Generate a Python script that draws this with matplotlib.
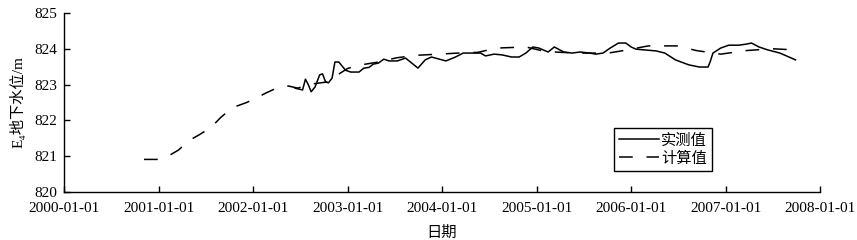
import matplotlib
matplotlib.use('Agg')
import matplotlib.pyplot as plt
import matplotlib.dates as mdates
import pandas as pd

# 实测值 (observed groundwater level, m)
obs_dates = ['2002-06-12', '2002-07-11', '2002-07-22', '2002-08-02', '2002-08-13', '2002-08-28',
             '2002-09-15', '2002-09-26', '2002-10-08', '2002-10-19', '2002-11-02', '2002-11-13',
             '2002-11-28', '2002-12-24', '2003-01-13', '2003-02-14', '2003-03-05', '2003-03-25',
             '2003-04-10', '2003-04-30', '2003-05-21', '2003-06-10', '2003-07-12', '2003-08-13',
             '2003-09-30', '2003-10-28', '2003-11-21', '2004-01-16', '2004-02-22', '2004-03-23',
             '2004-04-29', '2004-05-29', '2004-06-17', '2004-07-20', '2004-08-19', '2004-09-26',
             '2004-10-25', '2004-11-20', '2004-12-17', '2005-01-09', '2005-02-14', '2005-03-10',
             '2005-04-15', '2005-05-17', '2005-06-18', '2005-07-24', '2005-08-17', '2005-09-14',
             '2005-10-12', '2005-11-13', '2005-12-11', '2006-01-01', '2006-01-19', '2006-02-18',
             '2006-04-07', '2006-05-11', '2006-06-21', '2006-08-12', '2006-09-22', '2006-10-25',
             '2006-11-02', '2006-11-13', '2006-12-13', '2007-01-13', '2007-02-22', '2007-03-22',
             '2007-04-11', '2007-05-10', '2007-06-12', '2007-07-30', '2007-09-28']
obs_vals = [822.90, 822.85, 823.15, 823.00, 822.80, 822.93,
            823.27, 823.30, 823.07, 823.05, 823.18, 823.63,
            823.63, 823.40, 823.35, 823.35, 823.46, 823.48,
            823.57, 823.60, 823.71, 823.66, 823.66, 823.74,
            823.46, 823.69, 823.77, 823.66, 823.77, 823.88,
            823.88, 823.88, 823.80, 823.85, 823.83, 823.77,
            823.77, 823.88, 824.05, 824.02, 823.91, 824.05,
            823.91, 823.88, 823.91, 823.88, 823.85, 823.88,
            824.02, 824.16, 824.16, 824.05, 823.99, 823.97,
            823.94, 823.88, 823.69, 823.55, 823.49, 823.49,
            823.63, 823.88, 824.02, 824.10, 824.10, 824.13,
            824.16, 824.05, 823.97, 823.88, 823.69]

# 计算值 (simulated groundwater level, m)
sim_dates = ['2000-11-05', '2000-12-30', '2001-02-06', '2001-03-18', '2001-05-01', '2001-06-07',
             '2001-07-22', '2001-08-27', '2001-10-11', '2001-12-07', '2002-01-19', '2002-02-21',
             '2002-04-10', '2002-05-17', '2002-06-23', '2002-07-30', '2002-10-11', '2003-01-01',
             '2003-02-22', '2003-04-22', '2003-07-11', '2003-09-30', '2003-12-20', '2004-03-04',
             '2004-05-18', '2004-08-01', '2004-11-20', '2005-02-06', '2005-06-06', '2005-10-04',
             '2005-12-03', '2006-03-08', '2006-06-28', '2006-09-10', '2006-12-13', '2007-03-22',
             '2007-07-01', '2007-09-21']
sim_vals = [820.91, 820.91, 821.00, 821.17, 821.45, 821.60,
            821.80, 822.07, 822.35, 822.50, 822.65, 822.77,
            822.93, 822.96, 822.90, 823.00, 823.07, 823.45,
            823.55, 823.62, 823.75, 823.82, 823.85, 823.88,
            823.90, 824.02, 824.05, 823.92, 823.88, 823.88,
            823.95, 824.08, 824.08, 823.95, 823.85, 823.95,
            824.00, 823.97]

x_ticks = ['2000-01-01', '2001-01-01', '2002-01-01', '2003-01-01', '2004-01-01',
           '2005-01-01', '2006-01-01', '2007-01-01', '2008-01-01']
y_ticks = [820, 821, 822, 823, 824, 825]

serif = ['Liberation Serif', 'Noto Sans CJK SC', 'DejaVu Serif']
plt.rcParams['font.family'] = serif
plt.rcParams['font.size'] = 11

fig = plt.figure(figsize=(8.57, 2.4), dpi=100)
ax = fig.add_axes([0.0747, 0.2, 0.8822, 0.746])

ax.plot(pd.to_datetime(obs_dates), obs_vals, color='black', lw=1.1, label='实测值')
ax.plot(pd.to_datetime(sim_dates), sim_vals, color='black', lw=1.1, dashes=(9, 9), label='计算值')

ax.set_xlim(pd.Timestamp(x_ticks[0]), pd.Timestamp(x_ticks[-1]))
ax.set_ylim(y_ticks[0], y_ticks[-1])
ax.set_xticks(pd.to_datetime(x_ticks))
ax.xaxis.set_major_formatter(mdates.DateFormatter('%Y-%m-%d'))
ax.set_yticks(y_ticks)

for s in ['top', 'right']:
    ax.spines[s].set_visible(False)
for s in ['left', 'bottom']:
    ax.spines[s].set_linewidth(1.0)
ax.tick_params(direction='in', length=4, width=1.0, labelsize=11)
ax.tick_params(axis='x', pad=7)
ax.tick_params(axis='y', pad=5)

ax.set_ylabel('E₄地下水位/m', fontsize=11, labelpad=6)
ax.set_xlabel('日期', fontsize=11, labelpad=8)

leg = ax.legend(loc='upper left', bbox_to_anchor=(0.7275, 0.3575), borderaxespad=0,
                fancybox=False, edgecolor='black', framealpha=1, handlelength=2.6,
                handletextpad=0.15, borderpad=0.35, labelspacing=0.25, fontsize=11)
leg.get_frame().set_linewidth(1.0)

fig.savefig('out.png', dpi=100)
